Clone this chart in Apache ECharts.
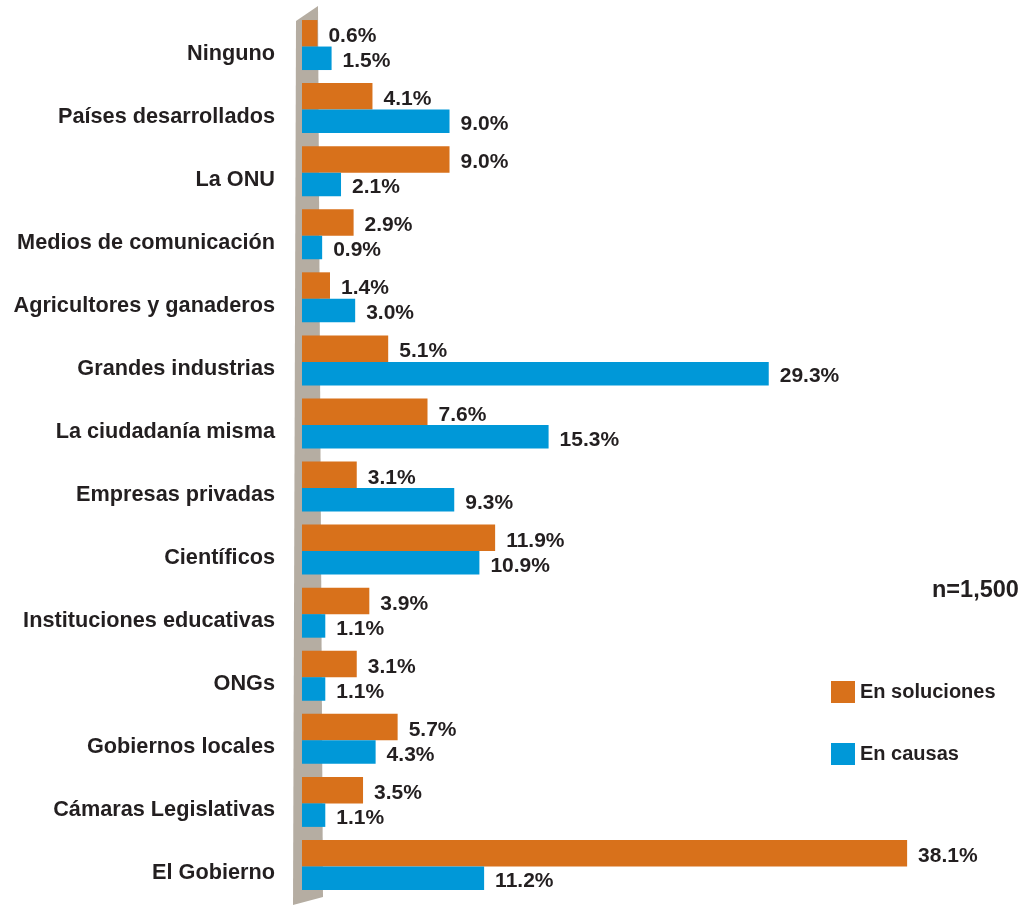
<!DOCTYPE html>
<html>
<head>
<meta charset="utf-8">
<script src="https://cdn.jsdelivr.net/npm/echarts@6/dist/echarts.min.js"></script>
<style>
html,body{margin:0;padding:0;background:#fff;}
#chart{width:1024px;height:905px;}
</style>
</head>
<body>
<div id="chart"></div>
<script>
var categories = ['Ninguno','Países desarrollados','La ONU','Medios de comunicación','Agricultores y ganaderos','Grandes industrias','La ciudadanía misma','Empresas privadas','Científicos','Instituciones educativas','ONGs','Gobiernos locales','Cámaras Legislativas','El Gobierno'];
var enSoluciones = [0.6, 4.1, 9.0, 2.9, 1.4, 5.1, 7.6, 3.1, 11.9, 3.9, 3.1, 5.7, 3.5, 38.1];
var enCausas = [1.5, 9.0, 2.1, 0.9, 3.0, 29.3, 15.3, 9.3, 10.9, 1.1, 1.1, 4.3, 1.1, 11.2];
var seriesNames = ['En soluciones', 'En causas'];
var sampleNote = 'n=1,500';

var FONT = '"Liberation Sans", Arial, Helvetica, sans-serif';
var TXT = '#231F20';
var ORANGE = '#D8711B';
var BLUE = '#0098D8';

function makeRender(isTop) {
  return function (params, api) {
    var ci = api.value(0), v = api.value(1);
    var p0 = api.coord([0, ci]);
    var p1 = api.coord([v, ci]);
    var y0 = isTop ? p0[1] - 25 : p0[1] + 1.5;
    var h = isTop ? 26.5 : 23.5;
    return {
      type: 'rect',
      shape: { x: p0[0] - 6, y: y0, width: p1[0] - p0[0] + 6, height: h },
      style: { fill: api.visual('color') },
      textContent: {
        style: { text: v.toFixed(1) + '%', fontSize: 21, fontWeight: 'bold', fontFamily: FONT, fill: TXT }
      },
      textConfig: { position: 'right', distance: 11, offset: [0, 3] }
    };
  };
}

var chart = echarts.init(document.getElementById('chart'), null, { renderer: 'canvas' });
chart.setOption({
  animation: false,
  backgroundColor: '#ffffff',
  grid: { left: 308, top: 13.5, width: 629, height: 883, containLabel: false },
  xAxis: {
    type: 'value', min: 0, max: 40,
    axisLine: { show: false }, axisTick: { show: false },
    axisLabel: { show: false }, splitLine: { show: false }
  },
  yAxis: {
    type: 'category', data: categories, inverse: true,
    axisLine: { show: false }, axisTick: { show: false },
    axisLabel: {
      margin: 33, fontSize: 21.7, fontWeight: 'bold', fontFamily: FONT, color: TXT,
      verticalAlign: 'top', lineHeight: 17
    }
  },
  legend: {
    orient: 'vertical', left: 831, top: 681, padding: 0,
    itemWidth: 24, itemHeight: 22, itemGap: 40, itemTextGap: 5,
    icon: 'rect',
    textStyle: { fontSize: 20, fontWeight: 'bold', fontFamily: FONT, color: TXT },
    data: seriesNames
  },
  graphic: [
    {
      type: 'polygon', z: -10, silent: true,
      shape: { points: [[296, 21], [318, 6], [323, 897], [293, 905]] },
      style: { fill: '#B5ADA2' }
    },
    {
      type: 'text', x: 932, y: 591,
      style: { text: sampleNote, fontSize: 23.5, fontWeight: 'bold', fontFamily: FONT, fill: TXT, verticalAlign: 'middle' }
    }
  ],
  series: [
    {
      name: seriesNames[0], type: 'custom', itemStyle: { color: ORANGE },
      encode: { y: 0, x: 1 },
      data: categories.map(function (c, i) { return [i, enSoluciones[i]]; }),
      renderItem: makeRender(true), z: 3
    },
    {
      name: seriesNames[1], type: 'custom', itemStyle: { color: BLUE },
      encode: { y: 0, x: 1 },
      data: categories.map(function (c, i) { return [i, enCausas[i]]; }),
      renderItem: makeRender(false), z: 3
    }
  ]
});
</script>
</body>
</html>
